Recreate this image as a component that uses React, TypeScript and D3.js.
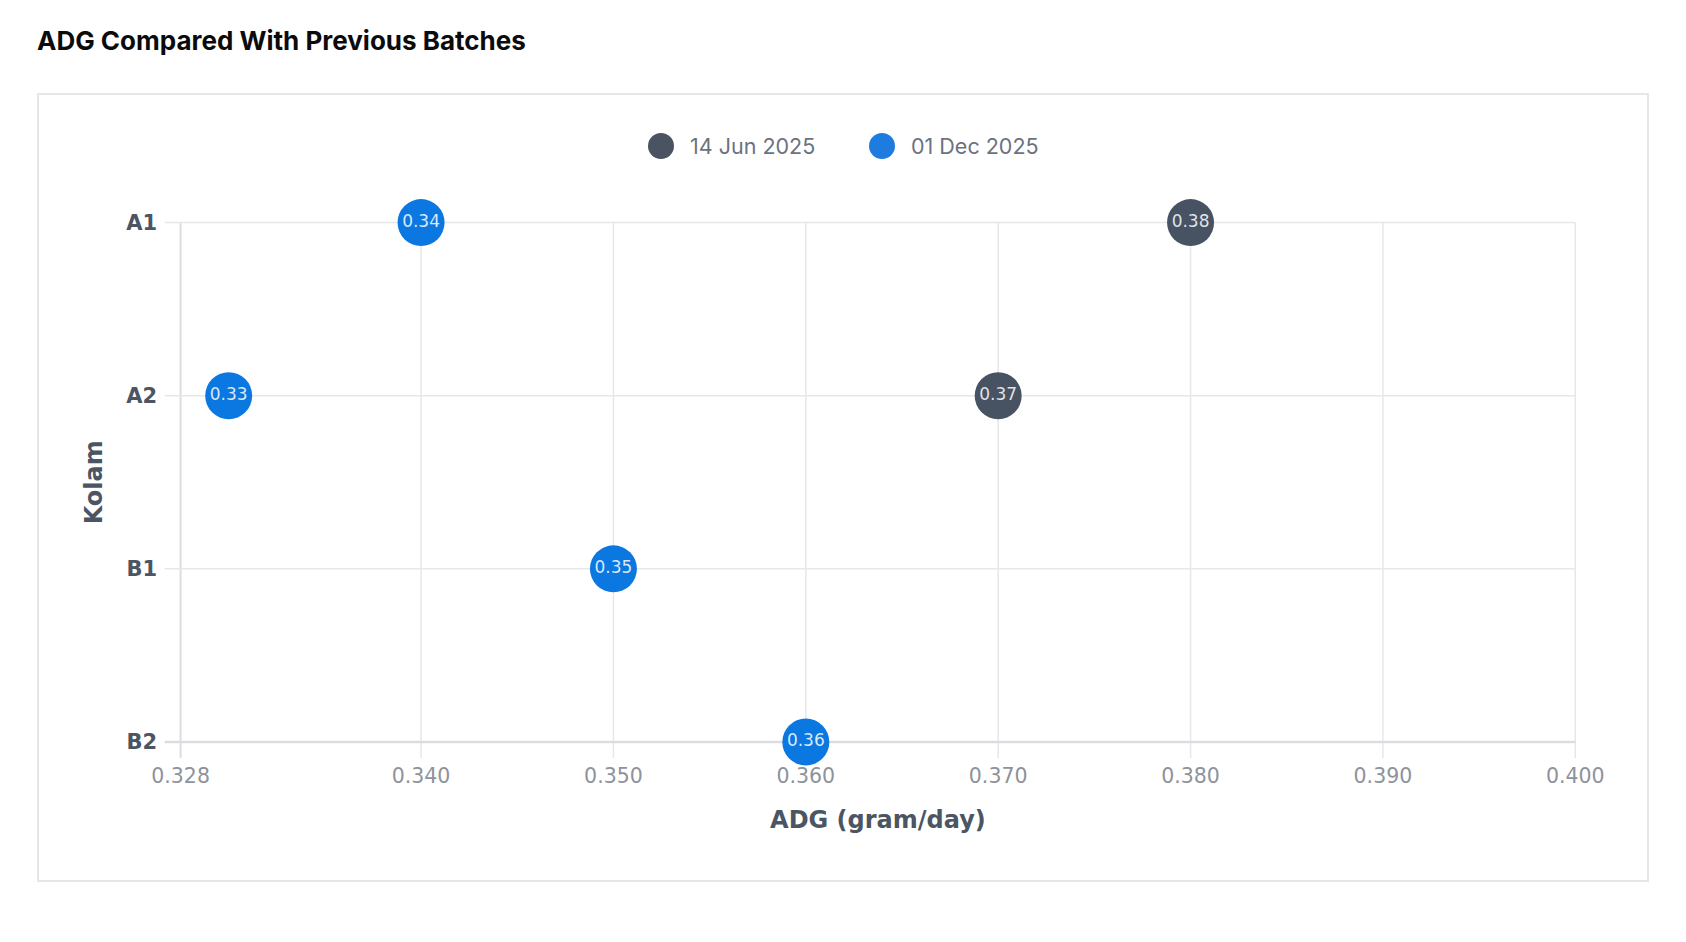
import React from "react";
import * as d3 from "d3";

const categories = ["A1", "A2", "B1", "B2"];
const seriesNames = ["14 Jun 2025", "01 Dec 2025"];
const seriesColors = ["#475262", "#0a78e0"];
const legendColors = ["#4a5362", "#1e7be0"];
const juneCats = ["A1", "A2"];
const juneValues = [0.38, 0.37];
const decCats = ["A1", "A2", "B1", "B2"];
const decValues = [0.34, 0.33, 0.35, 0.36];
const xTickValues = [0.3275, 0.34, 0.35, 0.36, 0.37, 0.38, 0.39, 0.4];
const xTickLabels = ["0.328", "0.340", "0.350", "0.360", "0.370", "0.380", "0.390", "0.400"];
const xDomain = [0.3275, 0.4];

export default function App() {
  const W = 1686, H = 942;
  const left = 180.6, right = 1575.3, top = 222.6, bottom = 742;
  const x = d3.scaleLinear().domain(xDomain).range([left, right]);
  const y = d3.scalePoint<string>().domain(categories).range([top, bottom]);
  const series = [
    { name: seriesNames[0], color: seriesColors[0], pts: juneCats.map((c, i) => ({ c, v: juneValues[i] })) },
    { name: seriesNames[1], color: seriesColors[1], pts: decCats.map((c, i) => ({ c, v: decValues[i] })) },
  ];
  const tickFont = "'DejaVu Sans', Verdana, sans-serif";
  return (
    <svg width={W} height={H} style={{ position: "absolute", left: 0, top: 0, background: "#fff" }}>
      <text x={37} y={50} fontFamily="Inter, sans-serif" fontWeight={700} fontSize={26} fill="#0b0b0b">
        ADG Compared With Previous Batches
      </text>
      <rect x={38} y={94} width={1610} height={787} fill="#fff" stroke="#e6e6e6" strokeWidth={2} />
      {/* legend */}
      {series.map((s, i) => {
        const cx = [661, 882][i];
        return (
          <g key={s.name}>
            <circle cx={cx} cy={146} r={13} fill={legendColors[i]} />
            <text x={cx + 29} y={146} dy="0.35em" fontFamily="Inter, sans-serif" fontSize={21.5} fill="#6b7280">
              {s.name}
            </text>
          </g>
        );
      })}
      {/* vertical grid */}
      {xTickValues.map((v, i) => (
        <line key={"vg" + i} x1={x(v)} x2={x(v)} y1={top} y2={bottom + 16}
          stroke={i === 0 ? "#dcdde1" : "#e6e7eb"} strokeWidth={i === 0 ? 2 : 1.5} />
      ))}
      {/* horizontal grid */}
      {categories.map((c, i) => (
        <line key={"hg" + c} x1={left - 16} x2={right} y1={y(c)} y2={y(c)}
          stroke={i === categories.length - 1 ? "#dcdde1" : "#e6e7eb"} strokeWidth={i === categories.length - 1 ? 2.5 : 1.5} />
      ))}
      {/* x tick labels */}
      {xTickValues.map((v, i) => (
        <text key={"xt" + i} x={x(v)} y={776} dy="0.35em" textAnchor="middle" fontFamily={tickFont} fontSize={20.5} fill="#8e939b">
          {xTickLabels[i]}
        </text>
      ))}
      {/* y tick labels */}
      {categories.map((c) => (
        <text key={"yt" + c} x={157} y={y(c)} dy="0.35em" textAnchor="end" fontFamily={tickFont} fontWeight={700} fontSize={21} fill="#4b5563">
          {c}
        </text>
      ))}
      {/* axis titles */}
      <text x={(left + right) / 2} y={820} dy="0.35em" textAnchor="middle" fontFamily={tickFont} fontWeight={700} fontSize={24} fill="#4b5563">
        ADG (gram/day)
      </text>
      <text transform={`translate(94,${(top + bottom) / 2}) rotate(-90)`} dy="0.35em" textAnchor="middle" fontFamily={tickFont} fontWeight={700} fontSize={24} fill="#4b5563">
        Kolam
      </text>
      {/* points */}
      {series.map((s) =>
        s.pts.map((p) => (
          <g key={s.name + p.c}>
            <circle cx={x(p.v)} cy={y(p.c)} r={23.5} fill={s.color} />
            <text x={x(p.v)} y={y(p.c) - 2} dy="0.35em" textAnchor="middle" fontFamily={tickFont} fontSize={17} fill="#ffffff" fillOpacity={0.85}>
              {p.v.toFixed(2)}
            </text>
          </g>
        ))
      )}
    </svg>
  );
}
